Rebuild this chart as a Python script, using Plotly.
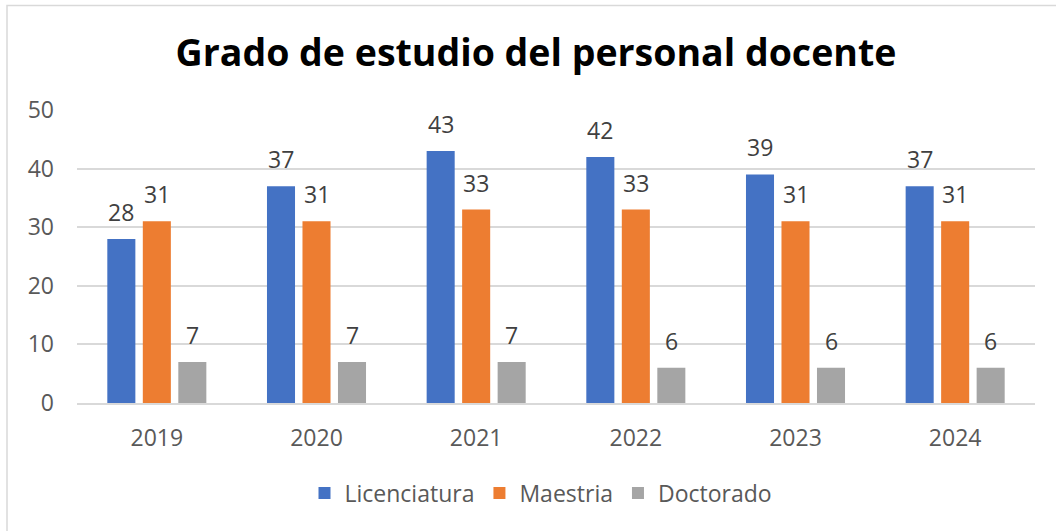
import plotly.graph_objects as go

years = ["2019", "2020", "2021", "2022", "2023", "2024"]
licenciatura = [28, 37, 43, 42, 39, 37]
maestria = [31, 31, 33, 33, 31, 31]
doctorado = [7, 7, 7, 6, 6, 6]

series = [
    ("Licenciatura", licenciatura, "#4472C4"),
    ("Maestria", maestria, "#ED7D31"),
    ("Doctorado", doctorado, "#A5A5A5"),
]

W, H = 1056, 531
ml, mr, mt, mb = 77, 21, 110, 128
BARGAP = 0.333
BARGROUPGAP = 0.21
FONT = "Open Sans"

fig = go.Figure()
for name, vals, col in series:
    fig.add_trace(go.Bar(
        x=years, y=vals, name=name, marker_color=col, marker_line_width=0,
    ))

# data labels above bars, positioned via the axes (category index + group offset)
slot = (1 - BARGAP) / len(series)
for si, (name, vals, col) in enumerate(series):
    off = (si - (len(series) - 1) / 2) * slot
    for ci, v in enumerate(vals):
        fig.add_annotation(x=ci + off, y=v, xref="x", yref="y", text=str(v),
                           showarrow=False, yanchor="middle", yshift=27,
                           font=dict(family=FONT, size=23, color="#404040"))

pw = W - ml - mr
ph = H - mt - mb
fig.add_shape(type="rect", xref="paper", yref="paper",
              x0=(7 - ml) / pw, x1=(1070 - ml) / pw,
              y0=-(545 - (H - mb)) / ph, y1=(H - mb - 5.5) / ph,
              line=dict(color="#D9D9D9", width=1.5), fillcolor="rgba(0,0,0,0)", layer="below")

fig.update_layout(
    width=W, height=H, autosize=False,
    margin=dict(l=ml, r=mr, t=mt, b=mb),
    paper_bgcolor="white", plot_bgcolor="white",
    barmode="group", bargap=BARGAP, bargroupgap=BARGROUPGAP,
    title=dict(text="<b>Grado de estudio del personal docente</b>",
               x=(536 - ml) / pw, xref="paper", xanchor="center", y=1 - 53 / H, yanchor="middle",
               font=dict(family=FONT, size=37.5, color="black")),
    font=dict(family=FONT, color="#595959"),
    yaxis=dict(range=[0, 50], dtick=10, showgrid=True, gridcolor="#D9D9D9", gridwidth=1.5,
               zeroline=False, showline=False, ticks="", ticklabelstandoff=22,
               tickfont=dict(family=FONT, size=23, color="#595959")),
    xaxis=dict(showline=True, linecolor="#D9D9D9", linewidth=1.5, ticks="", ticklabelstandoff=14,
               tickfont=dict(family=FONT, size=23, color="#595959")),
    legend=dict(orientation="h", x=(541 - ml) / pw, xanchor="center",
                y=-(493 - (H - mb)) / ph, yanchor="middle",
                font=dict(family=FONT, size=23, color="#595959"),
                itemwidth=30, tracegroupgap=0),
    showlegend=True,
)

fig.write_html("out.html", config={"displayModeBar": False},
               post_script="document.body.style.margin='0';document.body.style.overflow='hidden';")
